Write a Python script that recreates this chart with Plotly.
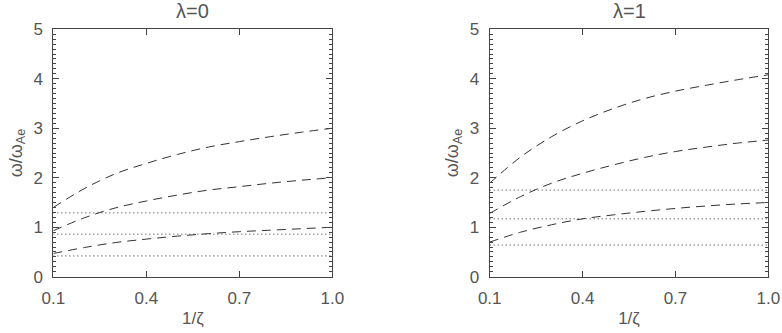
import plotly.graph_objects as go

x = [0.1, 0.2, 0.3, 0.4, 0.5, 0.6, 0.7, 0.8, 0.9, 1.0]

# lambda = 0
l0_top = [1.40, 1.78, 2.08, 2.29, 2.47, 2.62, 2.73, 2.83, 2.92, 3.00]
l0_mid = [0.93, 1.19, 1.39, 1.53, 1.65, 1.75, 1.82, 1.89, 1.95, 2.00]
l0_bot = [0.47, 0.59, 0.69, 0.76, 0.82, 0.87, 0.91, 0.94, 0.97, 1.00]
l0_dot = [1.29, 0.86, 0.42]

# lambda = 1
l1_top = [1.89, 2.42, 2.83, 3.15, 3.40, 3.60, 3.75, 3.87, 3.98, 4.08]
l1_mid = [1.28, 1.62, 1.89, 2.09, 2.26, 2.41, 2.53, 2.62, 2.70, 2.76]
l1_bot = [0.70, 0.90, 1.05, 1.17, 1.25, 1.32, 1.38, 1.43, 1.47, 1.50]
l1_dot = [1.75, 1.17, 0.64]

titles = ["λ=0", "λ=1"]
xtick_vals = [0.1, 0.4, 0.7, 1.0]
xtick_text = ["0.1", "0.4", "0.7", "1.0"]
ytick_vals = [0, 1, 2, 3, 4, 5]

LINE = "#333333"
AXIS = "#444444"
TEXT = "#555555"
FONT = "Liberation Sans, Arial, sans-serif"

fig = go.Figure()

panels = [
    ("x", "y", [l0_top, l0_mid, l0_bot], l0_dot),
    ("x2", "y2", [l1_top, l1_mid, l1_bot], l1_dot),
]
for xa, ya, dashed, dots in panels:
    for ys in dashed:
        fig.add_trace(go.Scatter(x=x, y=ys, xaxis=xa, yaxis=ya, mode="lines",
                                 line=dict(color=LINE, width=1, dash="9px,6px", shape="spline"),
                                 showlegend=False, hoverinfo="skip"))
    for d in dots:
        fig.add_trace(go.Scatter(x=[x[0], x[-1]], y=[d, d], xaxis=xa, yaxis=ya, mode="lines",
                                 line=dict(color=LINE, width=1, dash="1px,3px"),
                                 showlegend=False, hoverinfo="skip"))

common_x = dict(range=[0.1, 1.0], tickvals=xtick_vals, ticktext=xtick_text,
                ticks="inside", ticklen=6, tickcolor=AXIS, showline=True, linecolor=AXIS,
                linewidth=1, mirror="ticks", showgrid=False, zeroline=False, automargin=False,
                ticklabelstandoff=6,
                tickfont=dict(family=FONT, size=17, color=TEXT),
                title=dict(text="1/ζ", font=dict(family=FONT, size=17, color=TEXT), standoff=4))
common_y = dict(range=[0, 5], tickvals=ytick_vals, ticks="inside", ticklen=6, tickcolor=AXIS,
                showline=True, linecolor=AXIS, linewidth=1, mirror="ticks", showgrid=False,
                zeroline=False, automargin=False, ticklabelstandoff=6,
                tickfont=dict(family=FONT, size=17, color=TEXT),
                minor=dict(dtick=0.1, ticks="inside", ticklen=3, tickcolor=AXIS, showgrid=False),
                title=dict(text="ω/ω<sub>Ae</sub>", font=dict(family=FONT, size=18, color=TEXT), standoff=6))

fig.update_layout(
    width=782, height=333,
    margin=dict(l=0, r=0, t=0, b=0),
    paper_bgcolor="white", plot_bgcolor="white",
    xaxis=dict(domain=[0.0682, 0.4249], anchor="y", **common_x),
    yaxis=dict(domain=[0.169, 0.912], anchor="x", **common_y),
    xaxis2=dict(domain=[0.6262, 0.9825], anchor="y2", **common_x),
    yaxis2=dict(domain=[0.169, 0.912], anchor="x2", **common_y),
    annotations=[
        dict(text=titles[0], x=(0.0682 + 0.4249) / 2, y=1.005, xref="paper", yref="paper",
             xanchor="center", yanchor="top", showarrow=False,
             font=dict(family=FONT, size=20, color=TEXT)),
        dict(text=titles[1], x=(0.6262 + 0.9825) / 2, y=1.005, xref="paper", yref="paper",
             xanchor="center", yanchor="top", showarrow=False,
             font=dict(family=FONT, size=20, color=TEXT)),
    ],
)

fig.write_html("out.html",
               config={"displayModeBar": False, "staticPlot": True},
               post_script="document.body.style.margin='0px';document.body.style.overflow='hidden';")
